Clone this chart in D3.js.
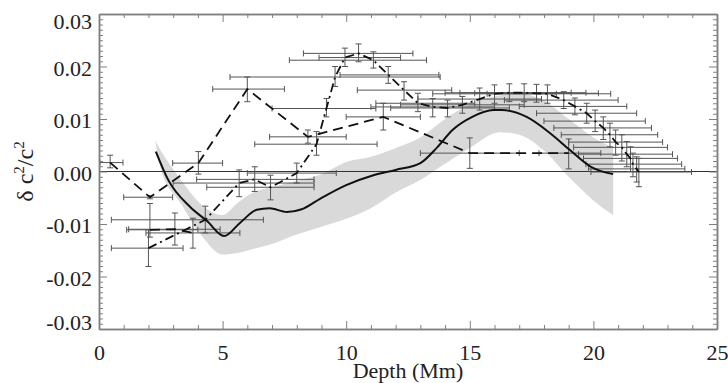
<!DOCTYPE html>
<html>
<head>
<meta charset="utf-8">
<script src="https://cdn.jsdelivr.net/npm/d3@7"></script>
<style>
  body { margin: 0; background: #fff; }
  svg text { font-family: "Liberation Serif", "Times New Roman", serif; fill: #222; }
</style>
</head>
<body>
<div id="chart"></div>
<script>
const WIDTH = 728;
const HEIGHT = 383;

// gray uncertainty band
const bandDepth = [2.27, 2.5, 3.3, 4.2, 5.0, 5.6, 6.2, 7.0, 8.0, 9.0, 10.0, 11.0, 12.0, 13.0, 14.0, 15.0, 16.2, 17.0, 18.0, 19.0, 20.0, 20.8];
const bandLower = [0.0059, 0.0005, -0.0060, -0.0125, -0.0158, -0.0155, -0.0148, -0.0138, -0.0120, -0.0105, -0.0090, -0.0070, -0.0040, -0.0016, 0.0015, 0.0045, 0.0075, 0.0070, 0.0040, -0.0010, -0.0055, -0.0083];
const bandUpper = [0.0059, 0.0040, -0.0015, -0.0065, -0.0083, -0.0060, -0.0041, -0.0030, -0.0018, -0.0005, 0.0018, 0.0028, 0.0045, 0.0065, 0.0100, 0.0128, 0.0145, 0.0148, 0.0135, 0.0100, 0.0065, 0.0045];

// solid curve
const solidDepth = [2.3, 2.8, 3.68, 4.36, 5.06, 5.7, 6.38, 6.9, 7.6, 8.2, 8.94, 10.0, 11.1, 12.0, 13.0, 13.7, 14.3, 15.1, 15.95, 16.3, 17.3, 18.25, 19.05, 19.9, 20.8];
const solidValue = [0.0038, -0.0016, -0.0067, -0.0094, -0.0123, -0.0098, -0.0073, -0.0070, -0.0077, -0.0072, -0.0052, -0.0026, -0.0007, 0.0003, 0.0016, 0.0047, 0.0079, 0.0104, 0.0117, 0.0117, 0.0104, 0.0073, 0.0041, 0.0009, -0.0005];

// dashed series with error bars
const dashDepth = [0.45, 2.06, 4.02, 6.0, 8.45, 11.5, 15.0, 19.0];
const dashValue = [0.0017, -0.0049, 0.0016, 0.0157, 0.0066, 0.0104, 0.0035, 0.0035];
const dashDepthLo = [0.04, 1.0, 2.98, 4.6, 6.9, 10.0, 13.0, 17.8];
const dashDepthHi = [0.97, 2.98, 5.0, 7.5, 10.0, 13.0, 17.0, 20.3];
const dashValueLo = [0.0007, -0.0052, -0.0005, 0.0133, 0.0054, 0.0079, 0.0006, 0.0005];
const dashValueHi = [0.0031, -0.0046, 0.0038, 0.0180, 0.0079, 0.0130, 0.0064, 0.0062];

// short dashed series (three shallow points)
const shortDepth = [2.06, 3.07, 3.8];
const shortValue = [-0.0111, -0.0110, -0.0117];
const shortDepthLo = [1.12, 1.2, 1.9];
const shortDepthHi = [4.0, 4.9, 5.7];
const shortValueLo = [-0.0125, -0.0140, -0.0146];
const shortValueHi = [-0.0061, -0.0079, -0.0089];

// dash-dot series with error bars
const ddDepth = [2.0, 4.3, 5.67, 6.3, 6.94, 8.0, 8.8, 9.2, 9.55, 9.95, 10.5, 11.1, 11.7, 12.34, 12.9, 13.5, 14.1, 14.7, 15.4, 16.0, 16.6, 17.2, 17.7, 18.14, 18.8, 19.25, 19.73, 20.07, 20.4, 20.67, 20.9, 21.15, 21.35, 21.5, 21.6, 21.75, 21.84];
const ddValue = [-0.0146, -0.0092, -0.0022, -0.0015, -0.0030, -0.0003, 0.0052, 0.0120, 0.0180, 0.0217, 0.0225, 0.0212, 0.0184, 0.0155, 0.0130, 0.0123, 0.0121, 0.0127, 0.0138, 0.0148, 0.0150, 0.0150, 0.0149, 0.0148, 0.0136, 0.0124, 0.0111, 0.0096, 0.0083, 0.0070, 0.0056, 0.0046, 0.0033, 0.0025, 0.0014, 0.0005, -0.0001];
const ddDepthLo = [0.5, 0.5, 3.0, 3.95, 4.36, 6.0, 6.3, 7.0, 5.3, 8.9, 8.27, 7.7, 9.75, 10.45, 11.2, 11.0, 11.8, 12.2, 12.9, 13.5, 14.0, 14.6, 15.2, 15.7, 16.4, 17.0, 17.7, 18.0, 18.4, 18.7, 19.0, 19.2, 19.4, 19.6, 19.7, 19.8, 19.9];
const ddDepthHi = [3.4, 6.65, 8.7, 8.7, 8.7, 9.6, 11.25, 11.2, 13.8, 12.2, 12.7, 13.25, 13.75, 14.27, 15.2, 16.0, 16.6, 17.2, 17.9, 18.5, 19.1, 19.7, 20.2, 20.7, 21.0, 21.35, 21.75, 22.1, 22.35, 22.6, 22.8, 23.0, 23.2, 23.4, 23.57, 23.7, 23.97];
const ddValueLo = [-0.0181, -0.0117, -0.0048, -0.0038, -0.0054, -0.0022, 0.0031, 0.0104, 0.0162, 0.0200, 0.0209, 0.0197, 0.0168, 0.0136, 0.0114, 0.0104, 0.0104, 0.0111, 0.0117, 0.0130, 0.0133, 0.0133, 0.0132, 0.0130, 0.0120, 0.0108, 0.0092, 0.0076, 0.0061, 0.0047, 0.0031, 0.0020, 0.0009, 0.0000, -0.0010, -0.0020, -0.0029];
const ddValueHi = [-0.0111, -0.0066, 0.0003, 0.0009, -0.0007, 0.0016, 0.0076, 0.0139, 0.0200, 0.0235, 0.0243, 0.0228, 0.0200, 0.0171, 0.0149, 0.0139, 0.0136, 0.0143, 0.0159, 0.0165, 0.0167, 0.0167, 0.0166, 0.0165, 0.0152, 0.0140, 0.0130, 0.0117, 0.0104, 0.0092, 0.0079, 0.0070, 0.0057, 0.0047, 0.0035, 0.0028, 0.0025];

const xMajor = [0, 5, 10, 15, 20, 25];
const yMajor = [-0.03, -0.02, -0.01, 0.0, 0.01, 0.02, 0.03];

const svg = d3.select("#chart").append("svg")
    .attr("width", WIDTH)
    .attr("height", HEIGHT);

svg.append("rect").attr("width", WIDTH).attr("height", HEIGHT).attr("fill", "#fff");

const x = d3.scaleLinear().domain([0, 25]).range([99, 717]);
const y = d3.scaleLinear().domain([-0.03, 0.03]).range([329, 14]);

// band
const band = bandDepth.map((d, i) => ({ d: d, lo: bandLower[i], hi: bandUpper[i] }));
svg.append("path")
    .datum(band)
    .attr("fill", "#d9d9d9")
    .attr("d", d3.area().x(p => x(p.d)).y0(p => y(p.lo)).y1(p => y(p.hi)).curve(d3.curveMonotoneX));

// zero line
svg.append("line")
    .attr("x1", x(0)).attr("x2", x(25))
    .attr("y1", y(0)).attr("y2", y(0))
    .attr("stroke", "#333").attr("stroke-width", 1);

function errorBars(depth, value, dLo, dHi, vLo, vHi) {
    const g = svg.append("g").attr("stroke", "#555").attr("stroke-width", 1).attr("fill", "none");
    const cap = 3;
    depth.forEach((d, i) => {
        const cx = x(d), cy = y(value[i]);
        // horizontal bar
        g.append("line").attr("x1", x(dLo[i])).attr("x2", x(dHi[i])).attr("y1", cy).attr("y2", cy);
        g.append("line").attr("x1", x(dLo[i])).attr("x2", x(dLo[i])).attr("y1", cy - cap).attr("y2", cy + cap);
        g.append("line").attr("x1", x(dHi[i])).attr("x2", x(dHi[i])).attr("y1", cy - cap).attr("y2", cy + cap);
        // vertical bar
        g.append("line").attr("x1", cx).attr("x2", cx).attr("y1", y(vLo[i])).attr("y2", y(vHi[i]));
        g.append("line").attr("x1", cx - cap).attr("x2", cx + cap).attr("y1", y(vLo[i])).attr("y2", y(vLo[i]));
        g.append("line").attr("x1", cx - cap).attr("x2", cx + cap).attr("y1", y(vHi[i])).attr("y2", y(vHi[i]));
    });
}

errorBars(dashDepth, dashValue, dashDepthLo, dashDepthHi, dashValueLo, dashValueHi);
errorBars(shortDepth, shortValue, shortDepthLo, shortDepthHi, shortValueLo, shortValueHi);
errorBars(ddDepth, ddValue, ddDepthLo, ddDepthHi, ddValueLo, ddValueHi);

const straight = d3.line().x(p => x(p[0])).y(p => y(p[1]));

svg.append("path")
    .datum(dashDepth.map((d, i) => [d, dashValue[i]]))
    .attr("fill", "none").attr("stroke", "#111").attr("stroke-width", 1.8)
    .attr("stroke-dasharray", "10,6")
    .attr("d", straight);

svg.append("path")
    .datum(shortDepth.map((d, i) => [d, shortValue[i]]))
    .attr("fill", "none").attr("stroke", "#111").attr("stroke-width", 1.8)
    .attr("stroke-dasharray", "10,6")
    .attr("d", straight);

svg.append("path")
    .datum(ddDepth.map((d, i) => [d, ddValue[i]]))
    .attr("fill", "none").attr("stroke", "#111").attr("stroke-width", 1.8)
    .attr("stroke-dasharray", "9,4,2,4")
    .attr("d", straight);

svg.append("path")
    .datum(solidDepth.map((d, i) => [d, solidValue[i]]))
    .attr("fill", "none").attr("stroke", "#111").attr("stroke-width", 2)
    .attr("d", d3.line().x(p => x(p[0])).y(p => y(p[1])).curve(d3.curveMonotoneX));

// axes
const axisColor = "#808080";
function styleAxis(g) {
    g.select(".domain").attr("stroke", axisColor).attr("stroke-width", 1.5);
    g.selectAll(".tick line").attr("stroke", axisColor).attr("stroke-width", 1);
}

const xMinor = d3.range(0, 26, 1).filter(v => v % 5 !== 0);
const yMinor = d3.range(-30, 31, 1).filter(v => v % 10 !== 0).map(v => v / 1000);

// bottom
svg.append("g").attr("transform", `translate(0,${y(-0.03)})`)
    .call(d3.axisBottom(x).tickValues(xMajor).tickFormat(d3.format("d")).tickSizeInner(-8).tickSizeOuter(0).tickPadding(15))
    .call(styleAxis)
    .call(g => g.selectAll("text").attr("font-size", 22).attr("fill", "#222").style("font-family", "Liberation Serif"));
svg.append("g").attr("transform", `translate(0,${y(-0.03)})`)
    .call(d3.axisBottom(x).tickValues(xMinor).tickFormat("").tickSizeInner(-4).tickSizeOuter(0))
    .call(styleAxis);

// top
svg.append("g").attr("transform", `translate(0,${y(0.03)})`)
    .call(d3.axisTop(x).tickValues(xMajor).tickFormat("").tickSizeInner(-8).tickSizeOuter(0))
    .call(styleAxis);
svg.append("g").attr("transform", `translate(0,${y(0.03)})`)
    .call(d3.axisTop(x).tickValues(xMinor).tickFormat("").tickSizeInner(-4).tickSizeOuter(0))
    .call(styleAxis);

// left
svg.append("g").attr("transform", `translate(${x(0)},0)`)
    .call(d3.axisLeft(y).tickValues(yMajor).tickFormat(d3.format(".2f")).tickSizeInner(-8).tickSizeOuter(0).tickPadding(7))
    .call(styleAxis)
    .call(g => g.selectAll("text")
        .attr("font-size", 22).attr("fill", "#222").style("font-family", "Liberation Serif")
        .text(d => d3.format(".2f")(d).replace("−", "-"))
        .attr("dy", d => d === 0.03 ? "0.64em" : d === -0.03 ? "0.02em" : "0.4em"));
svg.append("g").attr("transform", `translate(${x(0)},0)`)
    .call(d3.axisLeft(y).tickValues(yMinor).tickFormat("").tickSizeInner(-4).tickSizeOuter(0))
    .call(styleAxis);

// right
svg.append("g").attr("transform", `translate(${x(25)},0)`)
    .call(d3.axisRight(y).tickValues(yMajor).tickFormat("").tickSizeInner(-8).tickSizeOuter(0))
    .call(styleAxis);
svg.append("g").attr("transform", `translate(${x(25)},0)`)
    .call(d3.axisRight(y).tickValues(yMinor).tickFormat("").tickSizeInner(-4).tickSizeOuter(0))
    .call(styleAxis);

// axis titles
svg.append("text")
    .attr("x", (x(0) + x(25)) / 2)
    .attr("y", 378)
    .attr("text-anchor", "middle")
    .attr("font-size", 22)
    .text("Depth (Mm)");

const yTitle = svg.append("text")
    .attr("transform", `translate(33,${y(0)}) rotate(-90)`)
    .attr("text-anchor", "middle")
    .attr("font-size", 24);
yTitle.append("tspan").text("δ c");
yTitle.append("tspan").attr("dy", -9).attr("font-size", 15).text("2");
yTitle.append("tspan").attr("dy", 9).text("/c");
yTitle.append("tspan").attr("dy", -9).attr("font-size", 15).text("2");
</script>
</body>
</html>
